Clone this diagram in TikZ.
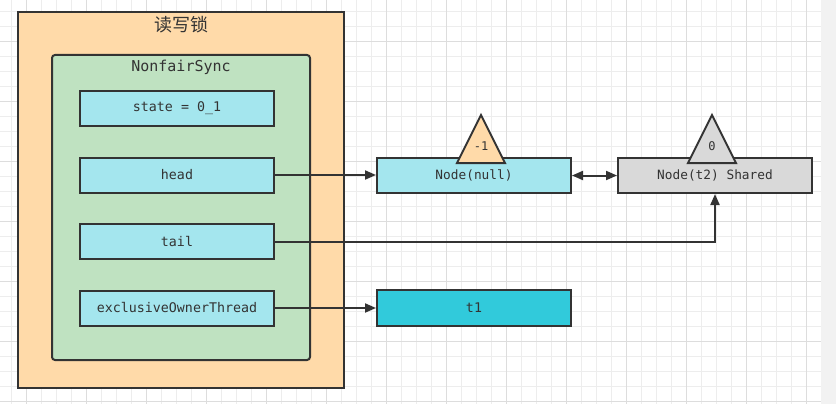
\documentclass[tikz,border=0pt]{standalone}
\usepackage{fontspec}
\setmainfont{DejaVu Sans Mono}
\newfontfamily\cjk{Noto Sans CJK SC}
\usetikzlibrary{arrows.meta}
\definecolor{outerfill}{HTML}{FFDAA9}
\definecolor{greenfill}{HTML}{BFE2C1}
\definecolor{cyanfill}{HTML}{A4E6EE}
\definecolor{tonefill}{HTML}{31CADB}
\definecolor{greyfill}{HTML}{D9D9D9}
\definecolor{ink}{HTML}{333333}
\definecolor{gminor}{HTML}{EDEDED}
\definecolor{gmajor}{HTML}{DDDDDD}
\tikzset{
  box/.style={draw=ink, line width=2pt, rectangle, inner sep=0pt, text=ink},
  field/.style={box, fill=cyanfill, minimum width=194pt, minimum height=35pt, font=\fontsize{13.3}{15}\selectfont},
  tri/.style={draw=ink, line width=2pt, line join=miter},
  trilabel/.style={text=ink, inner sep=0pt, font=\fontsize{12}{14}\selectfont},
  conn/.style={draw=ink, line width=2pt, -{Triangle[length=11pt,width=9pt]}},
  biconn/.style={draw=ink, line width=2pt, {Triangle[length=11pt,width=9pt]}-{Triangle[length=11pt,width=9pt]}}
}
\begin{document}
\begin{tikzpicture}[x=1pt,y=-1pt]
\useasboundingbox (0,0) rectangle (836,404);
\fill[white] (0,0) rectangle (821,404);
\fill[gray!10] (821,0) rectangle (836,404);
% grid
\foreach \x in {11.7,26.7,...,820} \draw[gminor, line width=1pt] (\x,0) -- (\x,404);
\foreach \y in {11.7,26.7,...,403} \draw[gminor, line width=1pt] (0,\y) -- (821,\y);
\foreach \x in {26.7,86.7,...,820} \draw[gmajor, line width=1pt] (\x,0) -- (\x,404);
\foreach \y in {41.7,101.7,...,403} \draw[gmajor, line width=1pt] (0,\y) -- (821,\y);
% containers
\node[box, fill=outerfill, minimum width=326pt, minimum height=376pt] (outer) at (181,200) {};
\node[text=ink, font=\cjk\fontsize{18}{20}\selectfont] (outertitle) at (181,25) {读写锁};
\node[box, fill=greenfill, rounded corners=3pt, minimum width=258pt, minimum height=305pt] (sync) at (181,207.5) {};
\node[text=ink, font=\fontsize{15}{17}\selectfont] (synctitle) at (181,67) {NonfairSync};
% fields
\node[field] (state) at (177,108.5) {state = 0\_1};
\node[field] (head) at (177,175) {head};
\node[field] (tail) at (177,241.5) {tail};
\node[field] (excl) at (177,308) {exclusiveOwnerThread};
% queue nodes
\node[field, font=\fontsize{12.8}{15}\selectfont] (nnull) at (474,175.5) {Node(null)};
\node[field, fill=greyfill, font=\fontsize{12.8}{15}\selectfont] (nt2) at (715,175.5) {Node(t2) Shared};
\node[field, fill=tonefill, minimum height=36pt] (t1) at (474,308) {t1};
% triangles
\draw[tri, fill=outerfill] (457,163) -- (481,115) -- (505,163) -- cycle;
\node[trilabel] (wnull) at (481,146) {-1};
\draw[tri, fill=greyfill] (688,163) -- (712,115) -- (736,163) -- cycle;
\node[trilabel] (wt2) at (712,146) {0};
% connectors
\draw[conn] (head.east) -- (nnull.west |- head.east);
\draw[biconn] (nnull.east) -- (nt2.west);
\draw[conn] (tail.east) -| (nt2.south);
\draw[conn] (excl.east) -- (t1.west);
\end{tikzpicture}
\end{document}
